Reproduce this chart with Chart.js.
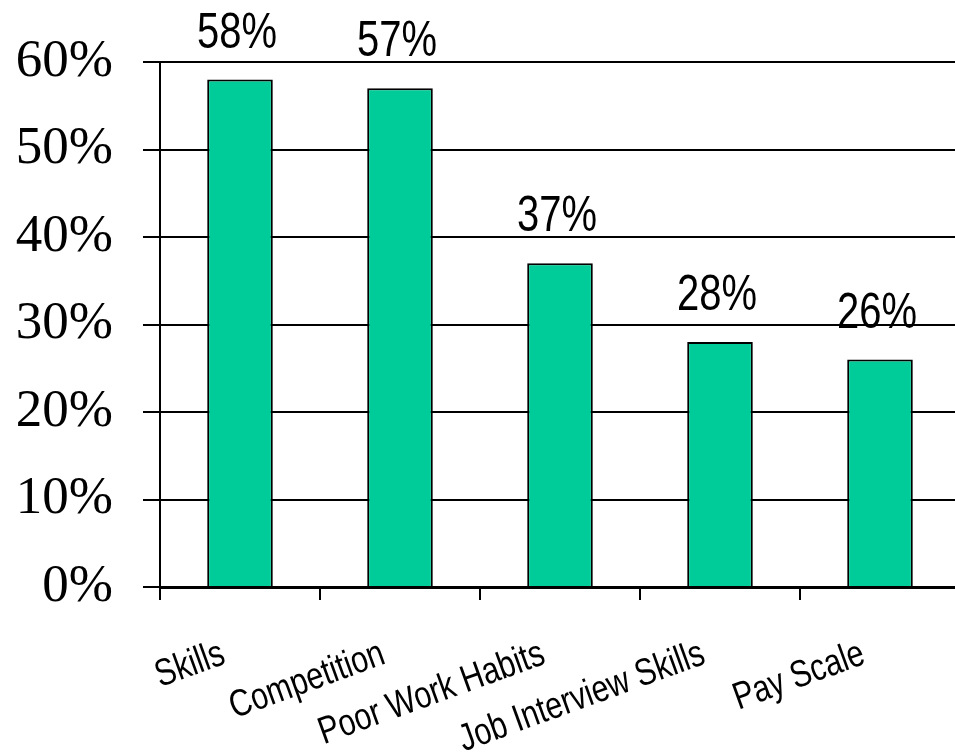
<!DOCTYPE html>
<html>
<head>
<meta charset="utf-8">
<script src="https://cdn.jsdelivr.net/npm/chart.js@4/dist/chart.umd.min.js"></script>
<style>
  html, body { margin: 0; padding: 0; background: #fff; overflow: hidden; }
  #wrap { width: 970px; height: 755px; }
</style>
</head>
<body>
<div id="wrap"><canvas id="chart" width="970" height="755"></canvas></div>
<script>
// Reasons chart
const categories = ['Skills', 'Competition', 'Poor Work Habits', 'Job Interview Skills', 'Pay Scale'];
const percents = [58, 57, 37, 28, 26];
const yTicks = [0, 10, 20, 30, 40, 50, 60];

const sans = "'Liberation Sans', Arial, sans-serif";
const NARROW = 0.8; // squeeze to look like a narrow face

// ===== VALUE LABELS ABOVE BARS =====
const valueLabels = {
  id: 'valueLabels',
  afterDatasetsDraw(chart) {
    const ctx = chart.ctx;
    const meta = chart.getDatasetMeta(0);
    ctx.save();
    ctx.font = '50px ' + sans;
    ctx.fillStyle = '#000';
    ctx.textAlign = 'center';
    ctx.textBaseline = 'alphabetic';
    meta.data.forEach((bar, i) => {
      ctx.save();
      ctx.translate(bar.x - 3, bar.y - 32);
      ctx.scale(NARROW, 1);
      ctx.fillText(percents[i] + '%', 0, 0);
      ctx.restore();
    });
    ctx.restore();
  },
};

// ===== SLANTED CATEGORY LABELS =====
const categoryLabels = {
  id: 'categoryLabels',
  afterDraw(chart) {
    const ctx = chart.ctx;
    const xScale = chart.scales.x;
    const y = xScale.top + 76;
    ctx.save();
    ctx.font = '38px ' + sans;
    ctx.fillStyle = '#000';
    ctx.textAlign = 'right';
    ctx.textBaseline = 'alphabetic';
    categories.forEach((label, i) => {
      const x = xScale.getPixelForTick(i);
      ctx.save();
      ctx.translate(x - 13, y);
      ctx.rotate(-20 * Math.PI / 180);
      ctx.scale(NARROW, 1);
      ctx.fillText(label, 0, 0);
      ctx.restore();
    });
    ctx.restore();
  },
};

new Chart(document.getElementById('chart'), {
  type: 'bar',
  data: {
    labels: categories,
    datasets: [
      {
        data: percents,
        backgroundColor: '#00CC99',
        borderColor: '#000',
        borderWidth: 2,
        categoryPercentage: 0.41,
        barPercentage: 1,
      },
    ],
  },
  options: {
    responsive: false,
    animation: false,
    layout: { padding: { top: 62, right: 10, left: 0, bottom: 0 } },
    plugins: {
      legend: { display: false },
      tooltip: { enabled: false },
    },
    scales: {
      x: {
        offset: true,
        grid: {
          offset: true,
          drawOnChartArea: false,
          color: '#000',
          lineWidth: 2,
          tickLength: 13,
        },
        border: { color: '#000', width: 3 },
        ticks: { display: false },
        afterFit(scale) { scale.height = 168; },
      },
      y: {
        min: 0,
        max: 60,
        afterBuildTicks(scale) { scale.ticks = yTicks.map((v) => ({ value: v })); },
        grid: { color: '#000', lineWidth: 2, tickLength: 17 },
        border: { color: '#000', width: 2 },
        ticks: {
          color: '#000',
          font: { family: "'Liberation Serif', 'Times New Roman', serif", size: 53 },
          padding: 30,
          callback: (v) => v + '%',
        },
        afterFit(scale) { scale.width = 160; },
      },
    },
  },
  plugins: [valueLabels, categoryLabels],
});
</script>
</body>
</html>
